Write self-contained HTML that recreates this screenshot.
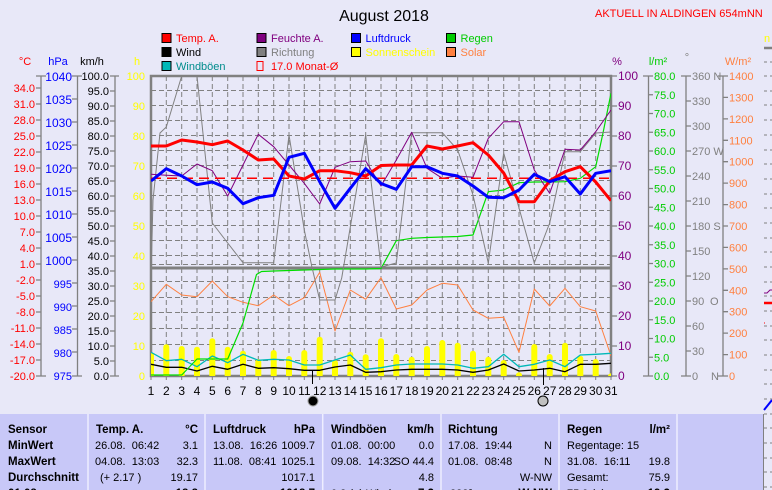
<!DOCTYPE html>
<html>
<head>
<meta charset="utf-8">
<style>
html,body{margin:0;padding:0;background:#E8E8F8;}
svg{display:block;}
text{font-family:"Liberation Sans",sans-serif;font-size:11px;white-space:pre;}
.b{font-weight:bold;font-size:11.5px;}
</style>
</head>
<body>
<svg width="772" height="490" viewBox="0 0 772 490" xmlns="http://www.w3.org/2000/svg">
<rect x="0" y="0" width="772" height="490" fill="#E8E8F8"/>

<!-- Title -->
<text x="384" y="21" font-size="16" text-anchor="middle" style="font-size:16px">August 2018</text>
<text x="595" y="17" fill="#FF0000">AKTUELL IN ALDINGEN 654mNN</text>

<!-- Legend -->
<g stroke="#000" stroke-width="1">
<rect x="162" y="33.5" width="9" height="9" fill="#FF0000"/>
<rect x="162" y="47.5" width="9" height="9" fill="#000000"/>
<rect x="162" y="61.5" width="9" height="9" fill="#00B8B8"/>
<rect x="257" y="33.5" width="9" height="9" fill="#800080"/>
<rect x="257" y="47.5" width="9" height="9" fill="#808080"/>
<rect x="351.5" y="33.5" width="9" height="9" fill="#0000FF"/>
<rect x="351.5" y="47.5" width="9" height="9" fill="#FFFF00"/>
<rect x="446.5" y="33.5" width="9" height="9" fill="#00CC00"/>
<rect x="446.5" y="47.5" width="9" height="9" fill="#FF8040"/>
</g>
<rect x="257" y="61.5" width="6" height="9" fill="none" stroke="#FF0000" stroke-width="1"/>
<text x="176" y="42" fill="#FF0000">Temp. A.</text>
<text x="176" y="56" fill="#000000">Wind</text>
<text x="176" y="70" fill="#008C8C">Windböen</text>
<text x="271" y="42" fill="#800080">Feuchte A.</text>
<text x="271" y="56" fill="#808080">Richtung</text>
<text x="271" y="70" fill="#FF0000">17.0 Monat-Ø</text>
<text x="365.5" y="42" fill="#0000FF">Luftdruck</text>
<text x="365.5" y="56" fill="#FFFF00">Sonnenschein</text>
<text x="460.5" y="42" fill="#00CC00">Regen</text>
<text x="460.5" y="56" fill="#FF8040">Solar</text>

<!-- Axis titles -->
<text x="25" y="65" fill="#FF0000" text-anchor="middle">°C</text>
<text x="58" y="65" fill="#0000FF" text-anchor="middle">hPa</text>
<text x="92" y="65" fill="#000000" text-anchor="middle">km/h</text>
<text x="137" y="65" fill="#FFFF00" text-anchor="middle">h</text>
<text x="617" y="65" fill="#800080" text-anchor="middle">%</text>
<text x="658" y="65" fill="#00CC00" text-anchor="middle">l/m²</text>
<text x="687" y="61" fill="#808080" text-anchor="middle">°</text>
<text x="738" y="65" fill="#FF8040" text-anchor="middle">W/m²</text>

<!-- Left axes lines -->
<g stroke="#808080" stroke-width="1.3" fill="none">
<line x1="41" y1="76" x2="41" y2="376"/>
<line x1="77.5" y1="76" x2="77.5" y2="376"/>
<line x1="115" y1="76" x2="115" y2="376"/>
<line x1="648.5" y1="76" x2="648.5" y2="376"/>
<line x1="686" y1="76" x2="686" y2="376"/>
<line x1="723" y1="76" x2="723" y2="376"/>
<!-- top/bottom cross ticks -->
<path d="M36 76H46M36 376H46M72 76H82M72 376H82M110 76H119M110 376H119M643 76H653M643 376H653M681 76H691M681 376H691M718 76H728M718 376H728"/>
<!-- °C ticks -->
<path d="M36 88H41M36 104H41M36 120H41M36 136H41M36 152H41M36 168H41M36 184H41M36 200H41M36 216H41M36 232H41M36 248H41M36 264H41M36 280H41M36 296H41M36 312H41M36 328H41M36 344H41M36 360H41"/>
<!-- hPa ticks -->
<path d="M72 99H77M72 122H77M72 145H77M72 168H77M72 191H77M72 214H77M72 237H77M72 260H77M72 283H77M72 306H77M72 329H77M72 352H77"/>
<!-- km/h ticks -->
<path d="M110 91H115M110 106H115M110 121H115M110 136H115M110 151H115M110 166H115M110 181H115M110 196H115M110 211H115M110 226H115M110 241H115M110 256H115M110 271H115M110 286H115M110 301H115M110 316H115M110 331H115M110 346H115M110 361H115"/>
<!-- % ticks -->
<path d="M611 76H617M611 106H617M611 136H617M611 166H617M611 196H617M611 226H617M611 256H617M611 286H617M611 316H617M611 346H617M611 376H617"/>
<!-- l/m2 ticks -->
<path d="M648 94.75H653M648 113.5H653M648 132.25H653M648 151H653M648 169.75H653M648 188.5H653M648 207.25H653M648 226H653M648 244.75H653M648 263.5H653M648 282.25H653M648 301H653M648 319.75H653M648 338.5H653M648 357.25H653"/>
<!-- deg ticks -->
<path d="M686 101H691M686 126H691M686 151H691M686 176H691M686 201H691M686 226H691M686 251H691M686 276H691M686 301H691M686 326H691M686 351H691"/>
<!-- W/m2 ticks -->
<path d="M723 97.4H728M723 118.9H728M723 140.3H728M723 161.7H728M723 183.1H728M723 204.6H728M723 226H728M723 247.4H728M723 268.9H728M723 290.3H728M723 311.7H728M723 333.1H728M723 354.6H728"/>
</g>

<!-- °C labels -->
<g fill="#FF0000" text-anchor="end">
<text x="35" y="92">34.0</text><text x="35" y="108">31.0</text><text x="35" y="124">28.0</text><text x="35" y="140">25.0</text>
<text x="35" y="156">22.0</text><text x="35" y="172">19.0</text><text x="35" y="188">16.0</text><text x="35" y="204">13.0</text>
<text x="35" y="220">10.0</text><text x="35" y="236">7.0</text><text x="35" y="252">4.0</text><text x="35" y="268">1.0</text>
<text x="35" y="284">-2.0</text><text x="35" y="300">-5.0</text><text x="35" y="316">-8.0</text><text x="35" y="332">-11.0</text>
<text x="35" y="348">-14.0</text><text x="35" y="364">-17.0</text><text x="35" y="380">-20.0</text>
</g>
<!-- hPa labels -->
<g fill="#0000FF" text-anchor="end">
<text x="72" y="81" style="font-size:12px">1040</text><text x="72" y="104" style="font-size:12px">1035</text><text x="72" y="127" style="font-size:12px">1030</text>
<text x="72" y="150" style="font-size:12px">1025</text><text x="72" y="173" style="font-size:12px">1020</text><text x="72" y="196" style="font-size:12px">1015</text>
<text x="72" y="219" style="font-size:12px">1010</text><text x="72" y="242" style="font-size:12px">1005</text><text x="72" y="265" style="font-size:12px">1000</text>
<text x="72" y="288">995</text><text x="72" y="311">990</text><text x="72" y="334">985</text><text x="72" y="357">980</text><text x="72" y="380">975</text>
</g>
<!-- km/h labels -->
<g fill="#000000" text-anchor="end">
<text x="109" y="80">100.0</text><text x="109" y="95">95.0</text><text x="109" y="110">90.0</text><text x="109" y="125">85.0</text>
<text x="109" y="140">80.0</text><text x="109" y="155">75.0</text><text x="109" y="170">70.0</text><text x="109" y="185">65.0</text>
<text x="109" y="200">60.0</text><text x="109" y="215">55.0</text><text x="109" y="230">50.0</text><text x="109" y="245">45.0</text>
<text x="109" y="260">40.0</text><text x="109" y="275">35.0</text><text x="109" y="290">30.0</text><text x="109" y="305">25.0</text>
<text x="109" y="320">20.0</text><text x="109" y="335">15.0</text><text x="109" y="350">10.0</text><text x="109" y="365">5.0</text>
<text x="109" y="380">0.0</text>
</g>
<!-- h labels -->
<g fill="#FFFF00" text-anchor="end">
<text x="145" y="80">100</text><text x="145" y="110">90</text><text x="145" y="140">80</text><text x="145" y="170">70</text>
<text x="145" y="200">60</text><text x="145" y="230">50</text><text x="145" y="260">40</text><text x="145" y="290">30</text>
<text x="145" y="320">20</text><text x="145" y="350">10</text><text x="145" y="380">0</text>
</g>
<!-- % labels -->
<g fill="#800080">
<text x="618" y="80" style="font-size:12px">100</text><text x="618" y="110" style="font-size:12px">90</text><text x="618" y="140" style="font-size:12px">80</text>
<text x="618" y="170" style="font-size:12px">70</text><text x="618" y="200" style="font-size:12px">60</text><text x="618" y="230" style="font-size:12px">50</text>
<text x="618" y="260" style="font-size:12px">40</text><text x="618" y="290" style="font-size:12px">30</text><text x="618" y="320" style="font-size:12px">20</text>
<text x="618" y="350" style="font-size:12px">10</text><text x="618" y="380" style="font-size:12px">0</text>
</g>
<!-- l/m2 labels -->
<g fill="#00CC00">
<text x="654" y="80">80.0</text><text x="654" y="98.75">75.0</text><text x="654" y="117.5">70.0</text><text x="654" y="136.25">65.0</text>
<text x="654" y="155">60.0</text><text x="654" y="173.75">55.0</text><text x="654" y="192.5">50.0</text><text x="654" y="211.25">45.0</text>
<text x="654" y="230">40.0</text><text x="654" y="248.75">35.0</text><text x="654" y="267.5">30.0</text><text x="654" y="286.25">25.0</text>
<text x="654" y="305">20.0</text><text x="654" y="323.75">15.0</text><text x="654" y="342.5">10.0</text><text x="654" y="361.25">5.0</text>
<text x="654" y="380">0.0</text>
</g>
<!-- deg labels -->
<g fill="#808080">
<text x="692" y="80">360 N</text><text x="692" y="105">330</text><text x="692" y="130">300</text><text x="692" y="155">270 W</text>
<text x="692" y="180">240</text><text x="692" y="205">210</text><text x="692" y="230">180 S</text><text x="692" y="255">150</text>
<text x="692" y="280">120</text><text x="692" y="305">90</text><text x="710" y="305">O</text><text x="692" y="330">60</text>
<text x="692" y="355">30</text><text x="692" y="380">0</text><text x="711" y="380">N</text>
</g>
<!-- W/m2 labels -->
<g fill="#FF8040">
<text x="729" y="80">1400</text><text x="729" y="101.4">1300</text><text x="729" y="122.9">1200</text><text x="729" y="144.3">1100</text>
<text x="729" y="165.7">1000</text><text x="729" y="187.1">900</text><text x="729" y="208.6">800</text><text x="729" y="230">700</text>
<text x="729" y="251.4">600</text><text x="729" y="272.9">500</text><text x="729" y="294.3">400</text><text x="729" y="315.7">300</text>
<text x="729" y="337.1">200</text><text x="729" y="358.6">100</text><text x="729" y="380">0</text>
</g>

<defs>
<clipPath id="plot"><rect x="151" y="76" width="460" height="300"/></clipPath>
</defs>

<!-- grid -->
<g stroke="#808080" stroke-width="1" stroke-dasharray="5 3" fill="none">
<path d="M166.3 76V376M181.7 76V376M197 76V376M212.3 76V376M227.7 76V376M243 76V376M258.3 76V376M273.7 76V376M289 76V376M304.3 76V376M319.7 76V376M335 76V376M350.3 76V376M365.7 76V376M381 76V376M396.3 76V376M411.7 76V376M427 76V376M442.3 76V376M457.7 76V376M473 76V376M488.3 76V376M503.7 76V376M519 76V376M534.3 76V376M549.7 76V376M565 76V376M580.3 76V376M595.7 76V376"/>
<path d="M151 90.5H611M151 105.5H611M151 120.5H611M151 135.5H611M151 150.5H611M151 165.5H611M151 180.5H611M151 195.5H611M151 210.5H611M151 225.5H611M151 240.5H611M151 255.5H611M151 264.5H611"/>
<path d="M151 281.5H611M151 297.5H611M151 312.5H611M151 328.5H611M151 344.5H611M151 360.5H611"/>
</g>

<!-- frame -->
<g stroke="#808080" fill="none">
<rect x="151" y="76" width="460" height="300" stroke-width="2.5"/>
<line x1="151" y1="268" x2="611" y2="268" stroke-width="3"/>
<path d="M151 376V380M166.3 376V380M181.7 376V380M197 376V380M212.3 376V380M227.7 376V380M243 376V380M258.3 376V380M273.7 376V380M289 376V380M304.3 376V380M319.7 376V380M335 376V380M350.3 376V380M365.7 376V380M381 376V380M396.3 376V380M411.7 376V380M427 376V380M442.3 376V380M457.7 376V380M473 376V380M488.3 376V380M503.7 376V380M519 376V380M534.3 376V380M549.7 376V380M565 376V380M580.3 376V380M595.7 376V380M611 376V380" stroke-width="1"/>
</g>

<g clip-path="url(#plot)">
<!-- sunshine bars -->
<g fill="#FFFF00">
<rect x="148" y="352.3" width="6" height="26" rx="3"/>
<rect x="163.3" y="344.3" width="6" height="34" rx="3"/>
<rect x="178.7" y="346" width="6" height="32" rx="3"/>
<rect x="194" y="346.7" width="6" height="32" rx="3"/>
<rect x="209.3" y="338.3" width="6" height="40" rx="3"/>
<rect x="224.7" y="346.7" width="6" height="32" rx="3"/>
<rect x="240" y="350.7" width="6" height="28" rx="3"/>
<rect x="255.3" y="359" width="6" height="20" rx="3"/>
<rect x="270.7" y="350" width="6" height="28" rx="3"/>
<rect x="286" y="356" width="6" height="22" rx="3"/>
<rect x="301.3" y="350" width="6" height="28" rx="3"/>
<rect x="316.7" y="336.7" width="6" height="42" rx="3"/>
<rect x="332" y="360" width="6" height="18" rx="3"/>
<rect x="347.3" y="351.7" width="6" height="27" rx="3"/>
<rect x="362.7" y="354.3" width="6" height="24" rx="3"/>
<rect x="378" y="338.3" width="6" height="40" rx="3"/>
<rect x="393.3" y="354" width="6" height="24" rx="3"/>
<rect x="408.7" y="356.7" width="6" height="22" rx="3"/>
<rect x="424" y="346" width="6" height="32" rx="3"/>
<rect x="439.3" y="340" width="6" height="38" rx="3"/>
<rect x="454.7" y="342.7" width="6" height="36" rx="3"/>
<rect x="470" y="350.7" width="6" height="28" rx="3"/>
<rect x="485.3" y="356.7" width="6" height="22" rx="3"/>
<rect x="500.7" y="360" width="6" height="18" rx="3"/>
<rect x="516" y="372.3" width="6" height="6" rx="3"/>
<rect x="531.3" y="344" width="6" height="34" rx="3"/>
<rect x="546.7" y="354" width="6" height="24" rx="3"/>
<rect x="562" y="342.7" width="6" height="36" rx="3"/>
<rect x="577.3" y="355.7" width="6" height="23" rx="3"/>
<rect x="592.7" y="359" width="6" height="20" rx="3"/>
<rect x="608" y="373.3" width="6" height="6" rx="3"/>
</g>
<g fill="none" stroke-linejoin="round">
<!-- solar -->
<polyline stroke="#FF8040" stroke-width="1" points="151,301.7 166.3,284.3 181.7,295 197,296.7 212.3,281 227.7,296.7 243,302.3 258.3,305.7 273.7,295 289,305.7 304.3,297.7 319.7,272.3 335,331 350.3,290 365.7,299.3 381,277.7 396.3,309 411.7,305 427,290 442.3,283.3 457.7,285 473,310 488.3,318.3 503.7,317.3 519,352.3 534.3,289 549.7,306 565,288.3 580.3,306.7 595.7,311 611,356"/>
<!-- gusts -->
<polyline stroke="#00B8B8" stroke-width="1.3" points="151,352.3 166.3,360.7 181.7,359.3 197,366.7 212.3,356 227.7,362.7 243,354.3 258.3,360.3 273.7,359.3 289,360 304.3,365 319.7,365 335,360 350.3,355 365.7,369.3 381,367.7 396.3,365 411.7,364 427,364 442.3,364 457.7,365 473,368.3 488.3,366.7 503.7,354.3 519,366.7 534.3,364.3 549.7,360 565,366.7 580.3,355 595.7,354.3 611,353.3"/>
<!-- wind -->
<polyline stroke="#000000" stroke-width="1.3" points="151,364.3 166.3,367.3 181.7,367.3 197,371 212.3,366.3 227.7,369.3 243,364.3 258.3,368.3 273.7,367.7 289,368.7 304.3,370.3 319.7,370.3 335,367 350.3,365 365.7,372.3 381,371.7 396.3,370 411.7,369.3 427,369.3 442.3,369.3 457.7,370 473,372.3 488.3,370 503.7,364 519,371 534.3,370 549.7,368.3 565,371.7 580.3,364.3 595.7,364.3 611,363.3"/>
<!-- rain -->
<polyline stroke="#00DD00" stroke-width="1.2" points="151,375 166.3,375 181.7,375 197,359 212.3,359 227.7,359 243,323 256.5,274.5 261.5,271.5 273.7,271 289,270.5 304.3,270 319.7,269.5 335,269 350.3,269 365.7,269 381,268.5 396.3,240.7 411.7,238.3 427,237.5 442.3,237 457.7,236.5 473,235 488.3,191.7 503.7,190 519,182.7 534.3,182 549.7,182 565,181.7 580.3,178.3 595.7,166.7 603,133 611,93.3"/>
<!-- direction -->
<polyline stroke="#808080" stroke-width="1" points="151,277 153,200 160,133 166.3,127 181.7,76 197,76 212.3,223 227.7,243 243,262.7 258.3,262.7 273.7,262.7 289,135 304.3,230 311.7,266 319.7,300 335,300 341.7,278 350.3,227 365.7,135 381,267 396.3,263 411.7,132.7 427,132.7 442.3,132.7 457.7,150 473,195 488.3,263 503.7,153 519,208 534.3,263 549.7,223 565,151.7 580.3,151.7 595.7,133 611,132"/>
<!-- humidity -->
<polyline stroke="#800080" stroke-width="1" points="151,174.3 166.3,175.3 181.7,176 197,164 212.3,170.7 227.7,196 243,165 258.3,134.3 273.7,146.7 289,165 304.3,183.3 319.7,204 335,167.3 350.3,161.7 365.7,161 381,186 396.3,160 411.7,132.3 427,168.3 442.3,178.3 457.7,176 473,177.3 488.3,138.3 503.7,121.7 519,121.7 534.3,170 549.7,193.3 565,149.3 580.3,150 595.7,131.7 611,110"/>
<!-- monthly mean -->
<line x1="151" y1="178.3" x2="611" y2="178.3" stroke="#FF0000" stroke-width="1.5" stroke-dasharray="10 6"/>
<!-- temperature -->
<polyline stroke="#FF0000" stroke-width="3" points="151,146 166.3,146 181.7,140 197,142 212.3,144.7 227.7,141 243,150 258.3,160 273.7,159 289,176 304.3,179 319.7,170.7 335,170.7 350.3,172.7 365.7,176 381,165.5 396.3,165 411.7,165 427,146 442.3,149 457.7,146 473,142.7 488.3,155 503.7,173 519,201.7 534.3,201.7 549.7,180.7 565,171.7 580.3,166.7 595.7,182 611,200.7"/>
<!-- pressure -->
<polyline stroke="#0000FF" stroke-width="3" points="151,181 166.3,168.7 181.7,176 197,184.7 212.3,182 227.7,188.3 243,203.7 258.3,197.7 273.7,195.3 289,157.3 304.3,153.3 319.7,181.7 335,208.3 350.3,188.3 365.7,168.7 381,183.5 396.3,189.3 411.7,166.7 427,166.7 442.3,173.3 457.7,176 473,186 488.3,197.3 503.7,197.7 519,190 534.3,174.3 549.7,181.7 565,176.7 580.3,194 595.7,173.3 611,170.7"/>
</g>
</g>

<!-- moon markers -->
<line x1="312.5" y1="371" x2="312.5" y2="384" stroke="#000" stroke-width="1"/>
<line x1="543.5" y1="368" x2="543.5" y2="385" stroke="#000" stroke-width="1"/>
<circle cx="313" cy="401" r="5" fill="#000" stroke="#A0A0A0" stroke-width="1"/>
<circle cx="543" cy="401" r="5" fill="#C0C0C0" stroke="#000" stroke-width="1"/>

<!-- day labels -->
<g fill="#000" text-anchor="middle" style="font-size:12px">
<text x="151" y="395" style="font-size:12px">1</text><text x="166.3" y="395" style="font-size:12px">2</text><text x="181.7" y="395" style="font-size:12px">3</text><text x="197" y="395" style="font-size:12px">4</text>
<text x="212.3" y="395" style="font-size:12px">5</text><text x="227.7" y="395" style="font-size:12px">6</text><text x="243" y="395" style="font-size:12px">7</text><text x="258.3" y="395" style="font-size:12px">8</text>
<text x="273.7" y="395" style="font-size:12px">9</text><text x="289" y="395" style="font-size:12px">10</text><text x="304.3" y="395" style="font-size:12px">11</text><text x="319.7" y="395" style="font-size:12px">12</text>
<text x="335" y="395" style="font-size:12px">13</text><text x="350.3" y="395" style="font-size:12px">14</text><text x="365.7" y="395" style="font-size:12px">15</text><text x="381" y="395" style="font-size:12px">16</text>
<text x="396.3" y="395" style="font-size:12px">17</text><text x="411.7" y="395" style="font-size:12px">18</text><text x="427" y="395" style="font-size:12px">19</text><text x="442.3" y="395" style="font-size:12px">20</text>
<text x="457.7" y="395" style="font-size:12px">21</text><text x="473" y="395" style="font-size:12px">22</text><text x="488.3" y="395" style="font-size:12px">23</text><text x="503.7" y="395" style="font-size:12px">24</text>
<text x="519" y="395" style="font-size:12px">25</text><text x="534.3" y="395" style="font-size:12px">26</text><text x="549.7" y="395" style="font-size:12px">27</text><text x="565" y="395" style="font-size:12px">28</text>
<text x="580.3" y="395" style="font-size:12px">29</text><text x="595.7" y="395" style="font-size:12px">30</text><text x="611" y="395" style="font-size:12px">31</text>
</g>

<!-- partial right strip -->
<text x="764" y="42" fill="#FFFF00">n</text>
<line x1="764" y1="48" x2="772" y2="48" stroke="#808080" stroke-width="2.5"/>
<g stroke="#808080" stroke-width="1">
<path d="M764 62H767M770 62H772M764 76H767M770 76H772M764 91H767M770 91H772M764 105H767M770 105H772M764 120H767M770 120H772M764 135H767M770 135H772M764 150H767M770 150H772M764 164H767M770 164H772M764 179H767M770 179H772M764 194H767M770 194H772M764 208H767M770 208H772M764 223H767M770 223H772M764 238H767M770 238H772M764 252H767M770 252H772M764 267H767M770 267H772M764 282H767M770 282H772M764 296H767M770 296H772M764 311H767M770 311H772M764 326H767M770 326H772M764 340H767M770 340H772M764 355H767M770 355H772M764 370H767M770 370H772M764 384H767M770 384H772M764 399H767M770 399H772M764 414H767M770 414H772M764 428H767M770 428H772M764 443H767M770 443H772M764 458H767M770 458H772M764 472H767M770 472H772M764 487H767M770 487H772"/>
</g>
<path d="M764 293H767L770 290H772" stroke="#800080" stroke-width="1" fill="none"/>
<line x1="764" y1="303" x2="772" y2="303" stroke="#FF0000" stroke-width="2.5"/>
<line x1="764" y1="323" x2="765" y2="323" stroke="#FF0000" stroke-width="1"/>
<line x1="764" y1="410" x2="772" y2="400" stroke="#0000FF" stroke-width="2"/>

<!-- table -->
<rect x="0" y="414" width="763" height="76" fill="#C8C8F8"/>
<g stroke="#EEEEFF" stroke-width="1.5">
<line x1="88" y1="414" x2="88" y2="490"/>
<line x1="205" y1="414" x2="205" y2="490"/>
<line x1="322.7" y1="414" x2="322.7" y2="490"/>
<line x1="441" y1="414" x2="441" y2="490"/>
<line x1="559" y1="414" x2="559" y2="490"/>
<line x1="677" y1="414" x2="677" y2="490"/>
</g>
<line x1="763.5" y1="414" x2="763.5" y2="490" stroke="#808080" stroke-width="1"/>
<g fill="#000">
<text class="b" x="8" y="433">Sensor</text>
<text class="b" x="8" y="449">MinWert</text>
<text class="b" x="8" y="465">MaxWert</text>
<text class="b" x="8" y="481">Durchschnitt</text>
<text class="b" x="8" y="497">01.08.</text>

<text class="b" x="96" y="433">Temp. A.</text>
<text class="b" x="198" y="433" text-anchor="end">°C</text>
<text x="95" y="449">26.08.  06:42</text><text x="198" y="449" text-anchor="end">3.1</text>
<text x="95" y="465">04.08.  13:03</text><text x="198" y="465" text-anchor="end">32.3</text>
<text x="100" y="481">(+ 2.17 )</text><text x="198" y="481" text-anchor="end">19.17</text>
<text class="b" x="198" y="497" text-anchor="end">18.8</text>

<text class="b" x="213" y="433">Luftdruck</text>
<text class="b" x="315" y="433" text-anchor="end">hPa</text>
<text x="213" y="449">13.08.  16:26</text><text x="315" y="449" text-anchor="end">1009.7</text>
<text x="213" y="465">11.08.  08:41</text><text x="315" y="465" text-anchor="end">1025.1</text>
<text x="315" y="481" text-anchor="end">1017.1</text>
<text class="b" x="315" y="497" text-anchor="end">1018.7</text>

<text class="b" x="331" y="433">Windböen</text>
<text class="b" x="434" y="433" text-anchor="end">km/h</text>
<text x="331" y="449">01.08.  00:00</text><text x="434" y="449" text-anchor="end">0.0</text>
<text x="331" y="465">09.08.  14:32</text><text x="434" y="465" text-anchor="end">SO 44.4</text>
<text x="434" y="481" text-anchor="end">4.8</text>
<text x="331" y="497">0.8 (+) Wind</text><text class="b" x="434" y="497" text-anchor="end">7.3</text>

<text class="b" x="448" y="433">Richtung</text>
<text x="448" y="449">17.08.  19:44</text><text x="552" y="449" text-anchor="end">N</text>
<text x="448" y="465">01.08.  08:48</text><text x="552" y="465" text-anchor="end">N</text>
<text x="552" y="481" text-anchor="end">W-NW</text>
<text x="450" y="497">232°</text><text class="b" x="552" y="497" text-anchor="end">W-NW</text>

<text class="b" x="567" y="433">Regen</text>
<text class="b" x="670" y="433" text-anchor="end">l/m²</text>
<text x="567" y="449">Regentage: 15</text>
<text x="567" y="465">31.08.  16:11</text><text x="670" y="465" text-anchor="end">19.8</text>
<text x="567" y="481">Gesamt:</text><text x="670" y="481" text-anchor="end">75.9</text>
<text x="567" y="497">75.9 (+)</text><text class="b" x="670" y="497" text-anchor="end">19.3</text>
</g>
</svg>
</body>
</html>
